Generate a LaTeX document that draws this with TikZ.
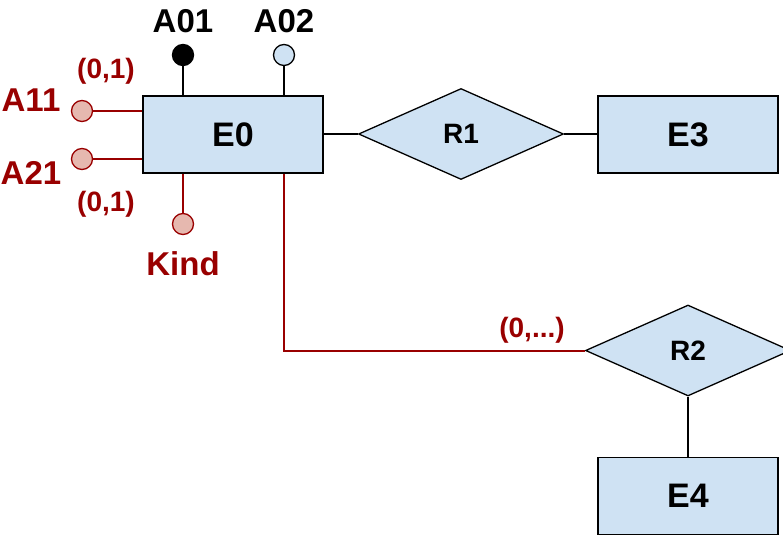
\documentclass[tikz,border=0pt]{standalone}
\usepackage{fontspec}
\setmainfont{Liberation Sans}
\usetikzlibrary{shapes.geometric}
\definecolor{boxfill}{HTML}{CFE2F3}
\definecolor{dred}{HTML}{990000}
\definecolor{pinkfill}{HTML}{E6B8AF}
\tikzset{
  ent/.style={draw=black, fill=boxfill, line width=1.5pt, minimum width=180pt, minimum height=77pt, inner sep=0pt, font=\fontsize{34}{36}\selectfont\bfseries},
  rel/.style={draw=black, fill=boxfill, line width=1.3pt, diamond, minimum width=205pt, minimum height=91pt, inner sep=0pt, font=\fontsize{28}{30}\selectfont\bfseries},
  attrblk/.style={circle, draw=black, fill=black, line width=1.3pt, minimum size=21pt, inner sep=0pt},
  attrblue/.style={circle, draw=black, fill=boxfill, line width=1.3pt, minimum size=21pt, inner sep=0pt},
  attrred/.style={circle, draw=dred, fill=pinkfill, line width=1.3pt, minimum size=21pt, inner sep=0pt},
  blab/.style={font=\fontsize{33}{35}\selectfont\bfseries, text=black, inner sep=0pt},
  rlab/.style={font=\fontsize{33}{35}\selectfont\bfseries, text=dred, inner sep=0pt},
  card/.style={font=\fontsize{28}{30}\selectfont\bfseries, text=dred, inner sep=0pt},
  bl/.style={draw=black, line width=2pt},
  rl/.style={draw=dred, line width=2pt},
}
\begin{document}
\begin{tikzpicture}[x=1pt, y=-1pt]
\useasboundingbox (0,0) rectangle (783,540);
% shapes
\node[ent] (E0) at (233,134.5) {E0};
\node[ent] (E3) at (688,134.5) {E3};
\node[ent] (E4) at (688,496) {E4};
\node[rel] (R1) at (461,134) {R1};
\node[rel] (R2) at (688,350.5) {R2};
\node[attrblk] (A01) at (183,55) {};
\node[attrblue] (A02) at (284,55) {};
\node[attrred] (A11) at (82,111) {};
\node[attrred] (A21) at (82,159) {};
\node[attrred] (Kind) at (183,224) {};
% connectors
\draw[bl] (A01) -- (A01 |- E0.north);
\draw[bl] (A02) -- (A02 |- E0.north);
\draw[rl] (A11) -- (A11 -| E0.west);
\draw[rl] (A21) -- (A21 -| E0.west);
\draw[rl] (Kind) -- (Kind |- E0.south);
\draw[rl] (A02 |- E0.south) |- (R2.west);
\draw[bl] (E0.east |- R1.west) -- (R1.west);
\draw[bl] (R1.east) -- (R1.east -| E3.west);
\draw[bl] (R2.south) -- (E4.north);
% labels
\node[blab] (lA01) at (183,21) {A01};
\node[blab] (lA02) at (284,21) {A02};
\node[rlab] (lA11) at (31,100) {A11};
\node[rlab] (lA21) at (31,173) {A21};
\node[rlab] (lKind) at (183,264) {Kind};
\node[card] (c1) at (106,71) {(0,1)};
\node[card] (c2) at (106,204) {(0,1)};
\node[card] (c3) at (532,330) {(0,...)};
\end{tikzpicture}
\end{document}
